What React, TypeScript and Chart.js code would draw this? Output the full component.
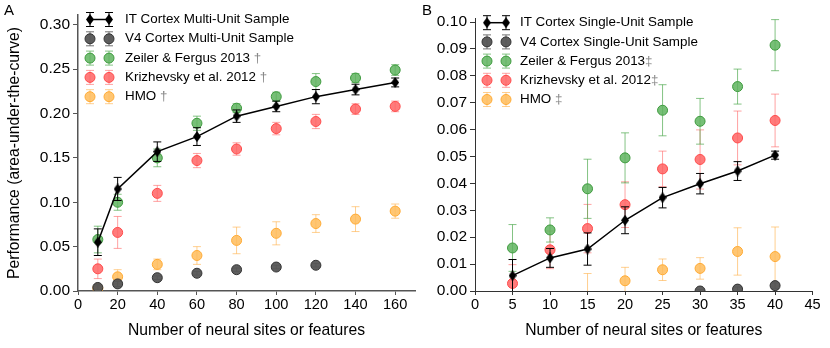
import React, { useEffect, useRef } from 'react';
import { Chart, registerables } from 'chart.js';
Chart.register(...registerables);

// ---------- DATA ----------
const xA = [10, 20, 40, 60, 80, 100, 120, 140, 160];
const itMulti = [0.055, 0.115, 0.157, 0.174, 0.197, 0.208, 0.219, 0.227, 0.235];
const itMultiErr = [0.015, 0.013, 0.011, 0.010, 0.007, 0.006, 0.008, 0.006, 0.005];
const v4Multi = [0.004, 0.008, 0.015, 0.020, 0.024, 0.027, 0.029, null, null];
const v4MultiErr = [0.003, 0.003, 0.002, 0.002, 0.002, 0.002, 0.002, null, null];
const zfA = [0.058, 0.100, 0.150, 0.189, 0.206, 0.219, 0.236, 0.240, 0.249];
const zfAErr = [0.015, 0.009, 0.010, 0.008, 0.005, 0.005, 0.009, 0.005, 0.006];
const krA = [0.025, 0.066, 0.110, 0.147, 0.160, 0.183, 0.191, 0.205, 0.208];
const krAErr = [0.011, 0.018, 0.009, 0.008, 0.007, 0.007, 0.008, 0.006, 0.006];
const hmoA = [0.003, 0.016, 0.030, 0.040, 0.057, 0.065, 0.076, 0.081, 0.090];
const hmoAErr = [0.003, 0.008, 0.006, 0.010, 0.015, 0.013, 0.010, 0.014, 0.008];

const xB = [5, 10, 15, 20, 25, 30, 35, 40];
const itSingle = [0.0057, 0.0123, 0.0156, 0.0263, 0.0347, 0.0399, 0.0446, 0.0505];
const itSingleErr = [0.006, 0.0035, 0.006, 0.005, 0.0038, 0.0038, 0.0035, 0.0015];
const v4Single = [null, null, null, null, null, 0.0, 0.0007, 0.002];
const v4SingleErr = [null, null, null, null, null, 0.0005, 0.0008, 0.001];
const zfB = [0.016, 0.0227, 0.038, 0.0495, 0.0672, 0.0631, 0.076, 0.0914];
const zfBErr = [0.0087, 0.0045, 0.011, 0.0093, 0.0095, 0.0085, 0.0065, 0.0095];
const krB = [0.0028, 0.0153, 0.0232, 0.0321, 0.0454, 0.0489, 0.0569, 0.0634];
const krBErr = [0.007, 0.007, 0.009, 0.0085, 0.0066, 0.011, 0.010, 0.0098];
const hmoB = [null, null, -0.004, 0.0038, 0.0079, 0.0084, 0.0147, 0.0128];
const hmoBErr = [null, null, 0.0105, 0.005, 0.004, 0.004, 0.0088, 0.011];

const xTicksA = [0, 20, 40, 60, 80, 100, 120, 140, 160];
const yTicksA = [0, 0.05, 0.1, 0.15, 0.2, 0.25, 0.3];
const xTicksB = [0, 5, 10, 15, 20, 25, 30, 35, 40, 45];
const yTicksB = [0, 0.01, 0.02, 0.03, 0.04, 0.05, 0.06, 0.07, 0.08, 0.09, 0.1];

const labelsA = ['IT Cortex Multi-Unit Sample', 'V4 Cortex Multi-Unit Sample', 'Zeiler & Fergus 2013', 'Krizhevsky et al. 2012', 'HMO'];
const notesA = ['', '', ' \u2020', ' \u2020', ' \u2020'];
const labelsB = ['IT Cortex Single-Unit Sample', 'V4 Cortex Single-Unit Sample', 'Zeiler & Fergus 2013', 'Krizhevsky et al. 2012', 'HMO'];
const notesB = ['', '', '\u2021', '\u2021', ' \u2021'];

const xTitle = 'Number of neural sites or features';
const yTitle = 'Performance (area-under-the-curve)';

// ---------- STYLE ----------
const FONT = '"Liberation Sans", Arial, Helvetica, sans-serif';
const STY = [
  { fill: '#000', border: '#000', bar: '#000', diamond: true },
  { fill: 'rgba(85,85,85,0.95)', border: '#333', bar: 'rgba(90,90,90,0.85)', diamond: false },
  { fill: 'rgba(95,180,95,0.85)', border: '#3e9a3e', bar: 'rgba(80,170,80,0.7)', diamond: false },
  { fill: 'rgba(255,100,100,0.85)', border: '#ff4a4a', bar: 'rgba(255,100,100,0.6)', diamond: false },
  { fill: 'rgba(255,188,90,0.85)', border: '#ffaa33', bar: 'rgba(255,175,70,0.6)', diamond: false },
];

function makeDiamond(w: number, h: number) {
  const c = document.createElement('canvas');
  c.width = w; c.height = h;
  const g = c.getContext('2d')!;
  g.fillStyle = '#000';
  g.beginPath();
  g.moveTo(w / 2, 0); g.lineTo(w, h / 2); g.lineTo(w / 2, h); g.lineTo(0, h / 2);
  g.closePath(); g.fill();
  return c;
}

const errorBarPlugin = {
  id: 'errbars',
  beforeDatasetDraw(chart: any, args: any) {
    const ds = chart.data.datasets[args.index];
    const errs = ds.errs;
    if (!errs) return;
    const xs = chart.scales.x, ys = chart.scales.y;
    const ctx = chart.ctx, ca = chart.chartArea;
    ctx.save();
    ctx.beginPath();
    ctx.rect(ca.left, ca.top, ca.right - ca.left, ca.bottom - ca.top);
    ctx.clip();
    ctx.strokeStyle = ds.barColor;
    ctx.lineWidth = 1;
    ds.data.forEach((pt: any, i: number) => {
      if (pt.y == null || errs[i] == null) return;
      const px = xs.getPixelForValue(pt.x);
      const y1 = ys.getPixelForValue(pt.y + errs[i]);
      const y2 = ys.getPixelForValue(pt.y - errs[i]);
      ctx.beginPath();
      ctx.moveTo(px, y1); ctx.lineTo(px, y2);
      ctx.moveTo(px - 4, y1); ctx.lineTo(px + 4, y1);
      ctx.moveTo(px - 4, y2); ctx.lineTo(px + 4, y2);
      ctx.stroke();
    });
    ctx.restore();
  },
};

const decorPlugin = {
  id: 'decor',
  afterDraw(chart: any, _args: any, opts: any) {
    const ctx = chart.ctx;
    ctx.save();
    ctx.fillStyle = '#000';
    ctx.font = `15px ${FONT}`;
    ctx.textBaseline = 'middle';
    ctx.textAlign = 'left';
    ctx.fillText(opts.letter, opts.letterX, opts.letterY);
    const { x1, x2, tx, y0, dy, labels, notes, diamond } = opts;
    labels.forEach((lab: string, i: number) => {
      const s = STY[i];
      const y = y0 + i * dy;
      ctx.strokeStyle = s.bar;
      ctx.lineWidth = 1;
      [x1, x2].forEach((x: number) => {
        ctx.beginPath();
        ctx.moveTo(x, y - 7); ctx.lineTo(x, y + 7);
        ctx.moveTo(x - 4, y - 7); ctx.lineTo(x + 4, y - 7);
        ctx.moveTo(x - 4, y + 7); ctx.lineTo(x + 4, y + 7);
        ctx.stroke();
      });
      if (s.diamond) {
        ctx.strokeStyle = '#000';
        ctx.lineWidth = 1.5;
        ctx.beginPath(); ctx.moveTo(x1, y); ctx.lineTo(x2, y); ctx.stroke();
        [x1, x2].forEach((x: number) => ctx.drawImage(diamond, x - diamond.width / 2, y - diamond.height / 2));
      } else {
        [x1, x2].forEach((x: number) => {
          ctx.beginPath();
          ctx.arc(x, y, 5, 0, Math.PI * 2);
          ctx.fillStyle = s.fill; ctx.fill();
          ctx.strokeStyle = s.border; ctx.lineWidth = 1; ctx.stroke();
        });
      }
      ctx.font = `13.4px ${FONT}`;
      ctx.fillStyle = '#000';
      ctx.textBaseline = 'middle';
      ctx.fillText(lab, tx, y);
      if (notes[i]) {
        const w = ctx.measureText(lab).width;
        ctx.fillStyle = '#888';
        ctx.fillText(notes[i], tx + w, y);
      }
    });
    ctx.restore();
  },
};

type Panel = {
  xs: number[];
  series: (number | null)[][];
  errs: (number | null)[][];
  labels: string[];
  notes: string[];
  xMax: number; yMax: number;
  xTicks: number[]; yTicks: number[];
  yWidth: number; padTop: number; padRight: number;
  showYTitle: boolean;
  legend: any;
  axisColor: string; axisWidth: number;
};

function buildConfig(p: Panel, diamond: HTMLCanvasElement): any {
  const datasets = p.series.map((vals, si) => {
    const s = STY[si];
    return {
      label: p.labels[si],
      data: p.xs.map((x, i) => ({ x, y: vals[i] })),
      errs: p.errs[si],
      barColor: s.bar,
      showLine: si === 0,
      borderColor: '#000',
      borderWidth: 1.5,
      pointStyle: s.diamond ? diamond : 'circle',
      pointRadius: 5,
      pointBackgroundColor: s.fill,
      pointBorderColor: s.border,
      pointBorderWidth: 1,
      fill: false,
    };
  });
  return {
    type: 'line',
    data: { datasets },
    plugins: [errorBarPlugin, decorPlugin],
    options: {
      animation: false,
      responsive: false,
      devicePixelRatio: 1,
      layout: { padding: { top: p.padTop, right: p.padRight, left: 0, bottom: 0 } },
      plugins: {
        legend: { display: false },
        tooltip: { enabled: false },
        decor: { ...p.legend, labels: p.labels, notes: p.notes, diamond },
      },
      scales: {
        x: {
          type: 'linear', min: 0, max: p.xMax,
          afterBuildTicks: (ax: any) => { ax.ticks = p.xTicks.map((v) => ({ value: v })); },
          afterFit: (s: any) => { s.height = 57; },
          grid: { display: true, drawOnChartArea: false, drawTicks: true, tickLength: 4, color: p.axisColor, lineWidth: 1 },
          border: { display: true, color: p.axisColor, width: p.axisWidth },
          ticks: { color: '#000', font: { family: FONT, size: 14.6 }, padding: 1, maxRotation: 0, autoSkip: false, callback: (v: any) => String(v) },
          title: { display: true, text: xTitle, color: '#000', font: { family: FONT, size: 15.7 }, padding: { top: 0, bottom: 8 } },
        },
        y: {
          type: 'linear', min: 0, max: p.yMax,
          afterBuildTicks: (ax: any) => { ax.ticks = p.yTicks.map((v) => ({ value: v })); },
          afterFit: (s: any) => { s.width = p.yWidth; },
          grid: { display: true, drawOnChartArea: false, drawTicks: true, tickLength: 5, color: p.axisColor, lineWidth: 1 },
          border: { display: true, color: p.axisColor, width: p.axisWidth },
          ticks: { color: '#000', font: { family: FONT, size: 15.5 }, padding: 3, autoSkip: false, callback: (v: any) => Number(v).toFixed(2) },
          title: { display: p.showYTitle, text: yTitle, color: '#000', font: { family: FONT, size: 15.7 }, padding: { top: 5, bottom: 0 } },
        },
      },
    },
  };
}

const panelA: Panel = {
  xs: xA,
  series: [itMulti, v4Multi, zfA, krA, hmoA],
  errs: [itMultiErr, v4MultiErr, zfAErr, krAErr, hmoAErr],
  labels: labelsA, notes: notesA,
  xMax: 170, yMax: 0.311,
  xTicks: xTicksA, yTicks: yTicksA,
  yWidth: 78, padTop: 15, padRight: 0.4,
  showYTitle: true,
  legend: { letter: 'A', letterX: 4, letterY: 11, x1: 90, x2: 109, tx: 125, y0: 19.5, dy: 19.3 },
  axisColor: '#555', axisWidth: 1.5,
};

const panelB: Panel = {
  xs: xB,
  series: [itSingle, v4Single, zfB, krB, hmoB],
  errs: [itSingleErr, v4SingleErr, zfBErr, krBErr, hmoBErr],
  labels: labelsB, notes: notesB,
  xMax: 45, yMax: 0.1015,
  xTicks: xTicksB, yTicks: yTicksB,
  yWidth: 54, padTop: 18, padRight: 17.4,
  showYTitle: false,
  legend: { letter: 'B', letterX: 1, letterY: 11, x1: 66, x2: 85, tx: 99, y0: 22.7, dy: 19.2 },
  axisColor: '#333', axisWidth: 1,
};

function ChartCanvas({ panel, left, width }: { panel: Panel; left: number; width: number }) {
  const ref = useRef<HTMLCanvasElement | null>(null);
  useEffect(() => {
    if (!ref.current) return;
    const diamond = makeDiamond(8, 11);
    const chart = new Chart(ref.current, buildConfig(panel, diamond));
    return () => chart.destroy();
  }, [panel]);
  return (
    <canvas
      ref={ref}
      width={width}
      height={348}
      style={{ position: 'absolute', left, top: 0, width, height: 348 }}
    />
  );
}

export default function App() {
  return (
    <div style={{ position: 'absolute', left: 0, top: 0, width: 830, height: 348, background: '#fff' }}>
      <ChartCanvas panel={panelA} left={0} width={421} />
      <ChartCanvas panel={panelB} left={421} width={409} />
    </div>
  );
}
